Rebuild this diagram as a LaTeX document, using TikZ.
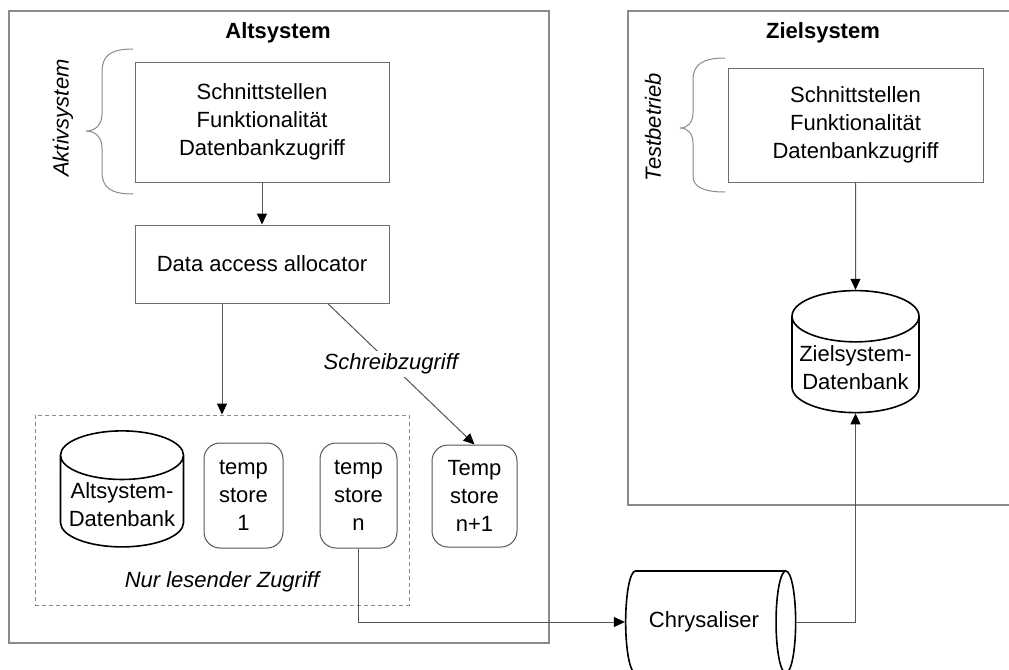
\documentclass[tikz,border=0pt]{standalone}
\usepackage{fontspec}
\setmainfont{Liberation Sans}
\usetikzlibrary{arrows.meta,shapes.geometric}
\definecolor{frameGray}{HTML}{8A8A8A}
\definecolor{lineGray}{HTML}{555555}

\tikzset{
  txt/.style={font=\fontsize{11}{14}\selectfont, align=center, text=black},
  frame/.style={draw=frameGray, line width=0.6pt},
  plainbox/.style={txt, draw=frameGray!80!black, line width=0.5pt, inner sep=0pt},
  storebox/.style={txt, draw=lineGray, line width=0.5pt, rounded corners=8pt, inner sep=0pt},
  dbase/.style={txt, cylinder, draw=black, line width=0.8pt, inner sep=1pt, aspect=0.44},
  readonly/.style={draw=frameGray, line width=0.5pt, dash pattern=on 2pt off 1.5pt, inner sep=0pt},
  arr/.style={draw=lineGray, line width=0.5pt, -{Triangle[length=5.5pt,width=5pt,color=black]}},
  brace/.style={draw=frameGray, line width=0.5pt},
  title/.style={txt, font=\fontsize{11}{14}\selectfont\bfseries},
  slanted/.style={txt, font=\fontsize{11}{14}\selectfont\itshape},
  sidelabel/.style={slanted, rotate=90},
}

\begin{document}
\begin{tikzpicture}[x=0.5pt, y=-0.5pt]
  \fill[white] (0,0) rectangle (1009,670);
  \useasboundingbox (0,0) rectangle (1009,670);

  % Altsystem
  \draw[frame] (9,11) rectangle (549,643);
  \node[title] (alttitle) at (278,33) {Altsystem};
  \node[plainbox, minimum width=127pt, minimum height=60pt] (altiface) at (262,122)
    {Schnittstellen\\Funktionalität\\Datenbankzugriff};
  \node[plainbox, minimum width=127pt, minimum height=39pt] (daa) at (262,264) {Data access allocator};
  \draw[brace] (133,49) .. controls (110,49) and (102,56) .. (102,72) -- (102,114)
    .. controls (102,124) and (96,131) .. (86,131) .. controls (96,131) and (102,138) .. (102,148)
    -- (102,172) .. controls (102,187) and (110,194) .. (133,194);
  \node[sidelabel] (aktiv) at (63,118) {Aktivsystem};

  \node[readonly, minimum width=187pt, minimum height=95pt] (readonly) at (222,510) {};
  \node[dbase, shape border rotate=90, minimum width=61.5pt, minimum height=58pt]
    (altdb) at (122,504.5) {Altsystem-\\Datenbank};
  \node[storebox, minimum width=39.5pt, minimum height=52.5pt] (store1) at (243.5,495.5) {temp\\store\\1};
  \node[storebox, minimum width=38.5pt, minimum height=52.5pt] (storen) at (358.5,495.5) {temp\\store\\n};
  \node[slanted] (nurlabel) at (222,582) {Nur lesender Zugriff};
  \node[storebox, minimum width=42.5pt, minimum height=51pt] (storenext) at (474.5,496) {Temp\\store\\n+1};

  % Zielsystem
  \draw[frame] (1012,11) -- (628,11) -- (628,505) -- (1012,505);
  \node[title] (zieltitle) at (823,33) {Zielsystem};
  \node[plainbox, minimum width=127.5pt, minimum height=57pt] (zieliface) at (855.5,125)
    {Schnittstellen\\Funktionalität\\Datenbankzugriff};
  \draw[brace] (725,58) .. controls (702,58) and (693,65) .. (693,80) -- (693,113)
    .. controls (693,122) and (688,128) .. (680,128) .. controls (688,128) and (693,134) .. (693,143)
    -- (693,176) .. controls (693,186) and (702,192) .. (725,192);
  \node[sidelabel] (testbetrieb) at (653,127) {Testbetrieb};
  \node[dbase, shape border rotate=90, minimum width=63.5pt, minimum height=61pt]
    (zieldb) at (855.5,368) {Zielsystem-\\Datenbank};

  % cylinder axis runs left to right here
  \node[dbase, aspect=0.8, minimum height=85pt, minimum width=51pt] (chrys) at (704,622) {Chrysaliser};

  % connectors
  \draw[arr] (altiface) -- (daa);
  \draw[arr] (daa.south -| readonly.north) -- (readonly.north);
  \draw[arr] (daa.-31) -- node[slanted, fill=white, pos=0.43, inner sep=1.5pt] (schreib) {Schreibzugriff} (storenext.north);
  \draw[arr] (storen.south) |- (chrys.west);
  \draw[arr] (chrys.east) -| (zieldb.south);
  \draw[arr] (zieliface) -- (zieldb.north);
\end{tikzpicture}
\end{document}
